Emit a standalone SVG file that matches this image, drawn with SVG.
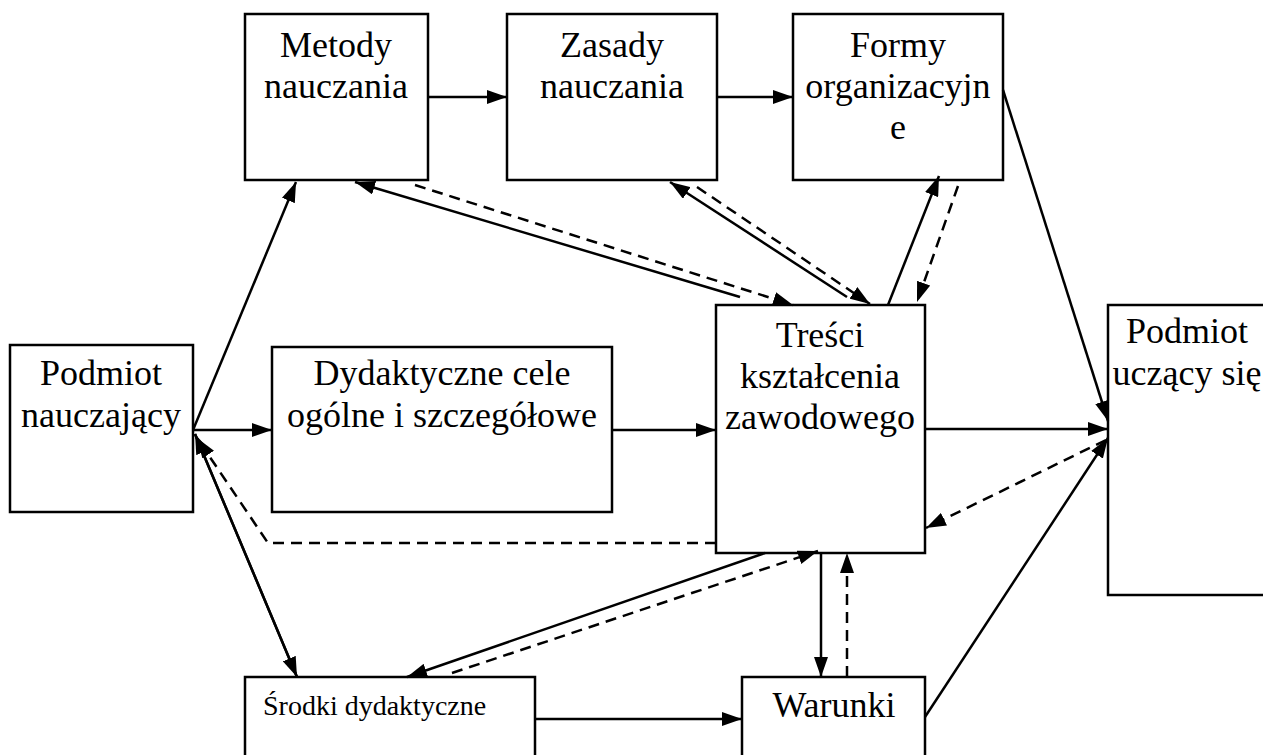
<svg xmlns="http://www.w3.org/2000/svg" width="1263" height="755" viewBox="0 0 1263 755">
<style>
.box{fill:#fff;stroke:#000;stroke-width:2.5}
.t{font-family:"Liberation Serif","Times New Roman",serif;font-size:36px;fill:#000;text-anchor:middle}
.ts{font-family:"Liberation Serif","Times New Roman",serif;font-size:28px;fill:#000}
.c{fill:none;stroke:#000;stroke-width:2.5}
.d{fill:none;stroke:#000;stroke-width:2.5;stroke-dasharray:11 7}
</style>
<defs>
<marker id="ah" viewBox="0 0 20 14" refX="20" refY="7" markerWidth="20" markerHeight="14" markerUnits="userSpaceOnUse" orient="auto">
<path d="M0,0 L20,7 L0,14 Z" fill="#000"/>
</marker>
</defs>
<rect width="1263" height="755" fill="#fff"/>
<g id="metody"><rect class="box" x="245" y="14" width="183" height="166"/><text class="t" x="336" y="57">Metody</text><text class="t" x="336" y="98">nauczania</text></g>
<g id="zasady"><rect class="box" x="507" y="14" width="210" height="166"/><text class="t" x="612" y="57">Zasady</text><text class="t" x="612" y="98">nauczania</text></g>
<g id="formy"><rect class="box" x="793" y="14" width="210" height="166"/><text class="t" x="898" y="57">Formy</text><text class="t" x="898" y="98">organizacyjn</text><text class="t" x="898" y="139">e</text></g>
<g id="podmiot-n"><rect class="box" x="10" y="345" width="183" height="167"/><text class="t" x="101" y="385">Podmiot</text><text class="t" x="101" y="427">nauczający</text></g>
<g id="cele"><rect class="box" x="272" y="347" width="340" height="165"/><text class="t" x="442" y="385">Dydaktyczne cele</text><text class="t" x="442" y="427">ogólne i szczegółowe</text></g>
<g id="tresci"><rect class="box" x="716" y="305" width="209" height="248"/><text class="t" x="820" y="347">Treści</text><text class="t" x="820" y="388">kształcenia</text><text class="t" x="820" y="429">zawodowego</text></g>
<g id="podmiot-u"><rect class="box" x="1108" y="305" width="170" height="290"/><text class="t" x="1187" y="343">Podmiot</text><text class="t" x="1187" y="385">uczący się</text></g>
<g id="srodki"><rect class="box" x="245" y="677" width="290" height="90"/><text class="ts" x="263" y="715">Środki dydaktyczne</text></g>
<g id="warunki"><rect class="box" x="742" y="677" width="183" height="90"/><text class="t" x="834" y="717">Warunki</text></g>
<g id="connectors">
<line class="c" x1="428" y1="97" x2="507" y2="97" marker-end="url(#ah)"/>
<line class="c" x1="717" y1="97" x2="793" y2="97" marker-end="url(#ah)"/>
<line class="c" x1="193" y1="430" x2="296" y2="182" marker-end="url(#ah)"/>
<line class="c" x1="193" y1="430" x2="272" y2="430" marker-end="url(#ah)"/>
<line class="c" x1="612" y1="430" x2="716" y2="430" marker-end="url(#ah)"/>
<line class="c" x1="925" y1="429" x2="1108" y2="429" marker-end="url(#ah)"/>
<line class="c" x1="297" y1="677" x2="195" y2="434" marker-end="url(#ah)"/>
<line class="c" x1="195" y1="434" x2="297" y2="677" marker-end="url(#ah)"/>
<polyline class="d" points="716,543 268,543 197,438" marker-end="url(#ah)"/>
<line class="c" x1="740" y1="297" x2="355" y2="182" marker-end="url(#ah)"/>
<line class="d" x1="415" y1="185" x2="793" y2="305" marker-end="url(#ah)"/>
<line class="c" x1="847" y1="297" x2="670" y2="182" marker-end="url(#ah)"/>
<line class="d" x1="697" y1="187" x2="870" y2="304" marker-end="url(#ah)"/>
<line class="c" x1="888" y1="305" x2="939" y2="176" marker-end="url(#ah)"/>
<line class="d" x1="958" y1="186" x2="917" y2="302" marker-end="url(#ah)"/>
<line class="c" x1="1003" y1="90" x2="1108" y2="421" marker-end="url(#ah)"/>
<line class="d" x1="1106" y1="440" x2="926" y2="528" marker-end="url(#ah)"/>
<line class="c" x1="925" y1="717" x2="1108" y2="438" marker-end="url(#ah)"/>
<line class="c" x1="765" y1="553" x2="407" y2="677" marker-end="url(#ah)"/>
<line class="d" x1="452" y1="673" x2="818" y2="551" marker-end="url(#ah)"/>
<line class="c" x1="821" y1="553" x2="821" y2="677" marker-end="url(#ah)"/>
<line class="d" x1="847" y1="677" x2="847" y2="553" marker-end="url(#ah)"/>
<line class="c" x1="535" y1="719" x2="742" y2="719" marker-end="url(#ah)"/>
</g>
</svg>
